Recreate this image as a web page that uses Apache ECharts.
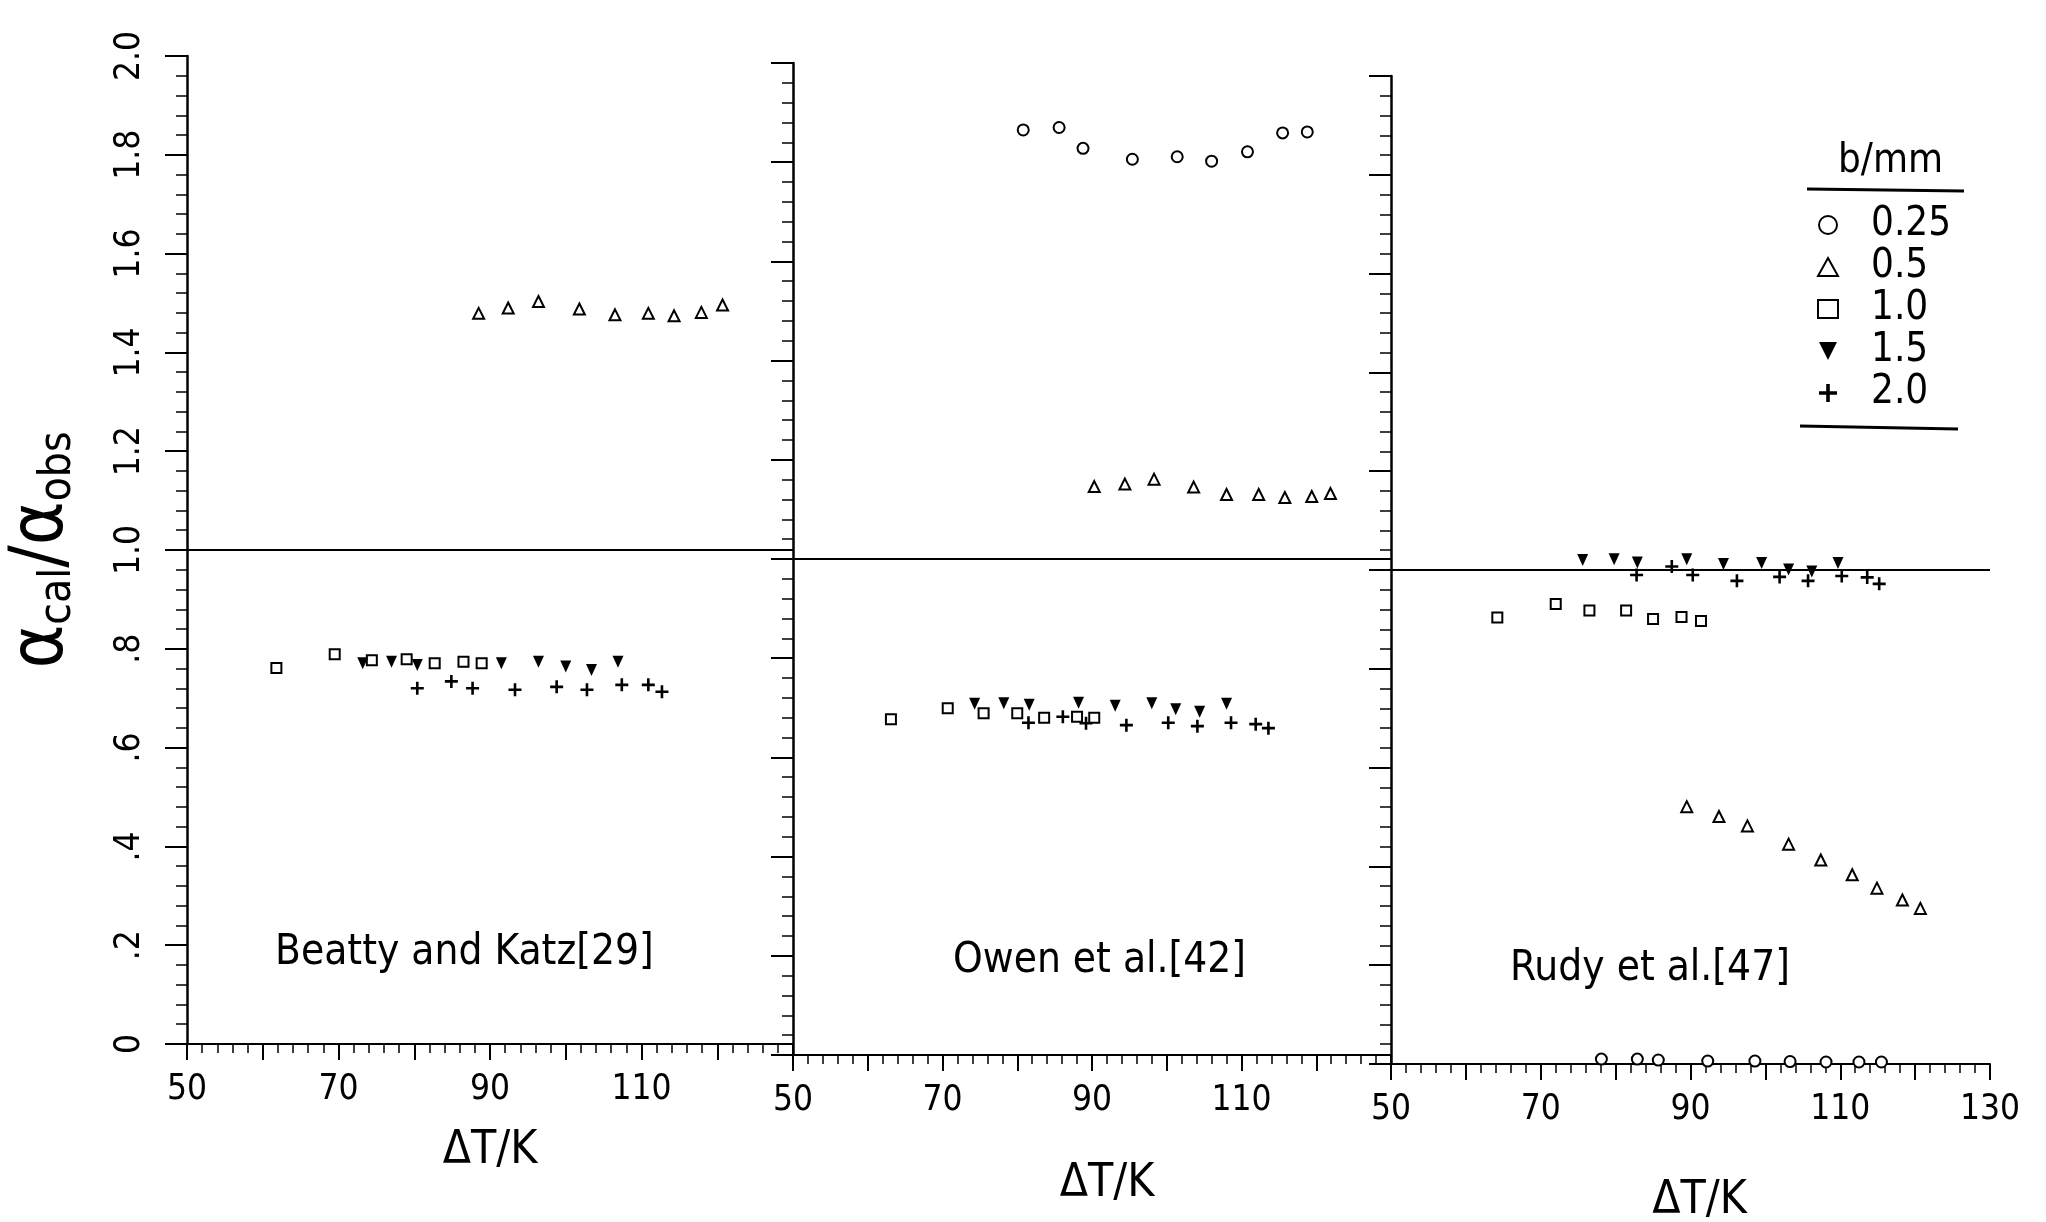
<!DOCTYPE html>
<html><head><meta charset="utf-8">
<script src="https://cdn.jsdelivr.net/npm/echarts@6/dist/echarts.min.js"></script>
<style>html,body{margin:0;padding:0;background:#fff}#c{width:2046px;height:1222px}</style>
</head><body><div id="c"></div><script>
// ---------- data ----------
const xTickLabels = ['50', '70', '90', '110', '130'];
const yTickLabels = ['0', '.2', '.4', '.6', '.8', '1.0', '1.2', '1.4', '1.6', '1.8', '2.0'];
const panelNames = ['Beatty and Katz[29]', 'Owen et al.[42]', 'Rudy et al.[47]'];
const bValues = ['0.25', '0.5', '1.0', '1.5', '2.0'];
const refLevel = 1.0;

// Beatty and Katz [29]
const beatty_05_x = [88.5, 92.4, 96.4, 101.8, 106.5, 110.9, 114.3, 117.9, 120.7];
const beatty_05_y = [1.479, 1.490, 1.503, 1.488, 1.476, 1.479, 1.474, 1.481, 1.496];
const beatty_10_x = [61.8, 69.5, 74.4, 79.0, 82.7, 86.5, 88.9];
const beatty_10_y = [0.761, 0.789, 0.777, 0.779, 0.771, 0.774, 0.771];
const beatty_15_x = [73.2, 77.0, 80.4, 91.5, 96.4, 100.0, 103.4, 106.9];
const beatty_15_y = [0.771, 0.774, 0.767, 0.771, 0.774, 0.764, 0.757, 0.774];
const beatty_20_x = [80.4, 84.9, 87.7, 93.3, 98.8, 102.8, 107.4, 110.9, 112.7];
const beatty_20_y = [0.720, 0.734, 0.720, 0.717, 0.723, 0.717, 0.727, 0.727, 0.713];

// Owen et al. [42]
const owen_025_x = [80.8, 85.6, 88.8, 95.4, 101.4, 106.0, 110.8, 115.5, 118.8];
const owen_025_y = [1.865, 1.870, 1.828, 1.806, 1.811, 1.802, 1.821, 1.859, 1.861];
const owen_05_x = [90.3, 94.4, 98.3, 103.6, 108.0, 112.3, 115.8, 119.4, 121.9];
const owen_05_y = [1.146, 1.151, 1.161, 1.145, 1.130, 1.130, 1.124, 1.126, 1.132];
const owen_10_x = [63.1, 70.7, 75.5, 80.0, 83.6, 88.0, 90.3];
const owen_10_y = [0.677, 0.699, 0.689, 0.689, 0.680, 0.682, 0.680];
const owen_15_x = [74.3, 78.2, 81.6, 88.2, 93.1, 98.0, 101.2, 104.4, 108.0];
const owen_15_y = [0.708, 0.709, 0.706, 0.710, 0.704, 0.709, 0.697, 0.692, 0.708];
const owen_20_x = [81.5, 86.1, 89.2, 94.6, 100.2, 104.1, 108.6, 111.9, 113.6];
const owen_20_y = [0.670, 0.682, 0.669, 0.665, 0.670, 0.663, 0.670, 0.667, 0.659];

// Rudy et al. [47]
const rudy_025_x = [78.1, 82.9, 85.7, 92.3, 98.6, 103.3, 108.1, 112.5, 115.5];
const rudy_025_y = [0.010, 0.010, 0.008, 0.006, 0.006, 0.005, 0.004, 0.004, 0.004];
const rudy_05_x = [89.5, 93.8, 97.6, 103.1, 107.4, 111.6, 114.9, 118.3, 120.7];
const rudy_05_y = [0.521, 0.501, 0.482, 0.445, 0.413, 0.383, 0.356, 0.332, 0.315];
const rudy_10_x = [64.2, 72.0, 76.5, 81.4, 85.0, 88.8, 91.4];
const rudy_10_y = [0.904, 0.931, 0.918, 0.918, 0.901, 0.905, 0.897];
const rudy_15_x = [75.6, 79.8, 82.9, 89.5, 94.4, 99.5, 103.1, 106.2, 109.7];
const rudy_15_y = [1.020, 1.022, 1.015, 1.022, 1.012, 1.014, 1.001, 0.997, 1.014];
const rudy_20_x = [82.8, 87.5, 90.3, 96.2, 101.9, 105.7, 110.2, 113.6, 115.2];
const rudy_20_y = [0.990, 1.007, 0.990, 0.978, 0.986, 0.978, 0.988, 0.985, 0.972];

// ---------- styling ----------
const FONT = "'Liberation Sans Narrow','DejaVu Sans Condensed','Liberation Sans',sans-serif";
const SYM = {
  '0.25': 'emptyCircle',
  '0.5': 'emptyTriangle',
  '1.0': 'emptyRect',
  '1.5': 'path://M0,0L10,0L5,10Z',
  '2.0': 'path://M4,0H6V4H10V6H6V10H4V6H0V4H4Z'
};
const SIZE = {'0.25': 11, '0.5': 11, '1.0': 10, '1.5': [11, 12], '2.0': 13};
const EMPTY = {'0.25': true, '0.5': true, '1.0': true, '1.5': false, '2.0': false};

function zip(xs, ys) { return xs.map((x, i) => [x, ys[i]]); }

function mk(b, idx, xs, ys, withRef) {
  const s = {
    name: b, type: 'scatter', xAxisIndex: idx, yAxisIndex: idx,
    symbol: SYM[b], symbolSize: SIZE[b],
    itemStyle: {color: '#000', borderColor: '#000', borderWidth: EMPTY[b] ? 2.4 : 0, opacity: 1},
    emphasis: {disabled: true},
    data: zip(xs, ys)
  };
  if (withRef) {
    s.markLine = {
      silent: true, symbol: 'none', label: {show: false}, animation: false,
      lineStyle: {color: '#000', width: 2, type: 'solid'},
      data: [{yAxis: refLevel}]
    };
  }
  return s;
}

const grids = [
  {left: 187, top: 56, width: 606, height: 988, containLabel: false, outerBoundsMode: 'none'},
  {left: 793, top: 63, width: 598, height: 992, containLabel: false, outerBoundsMode: 'none'},
  {left: 1391, top: 76, width: 599, height: 988, containLabel: false, outerBoundsMode: 'none'}
];
const nameGaps = [84, 106, 114];
const namePad = [[0, 0, 0, 0], [0, 0, 0, 30], [0, 0, 0, 18]];

const xAxes = grids.map((g, i) => ({
  type: 'value', gridIndex: i, min: 50, max: 130, interval: 10,
  axisLine: {show: true, onZero: false, lineStyle: {color: '#000', width: 2}},
  axisTick: {show: true, length: 16, lineStyle: {color: '#000', width: 2}},
  minorTick: {show: true, splitNumber: 5, length: 9, lineStyle: {color: '#000', width: 1.5}},
  splitLine: {show: false}, minorSplitLine: {show: false},
  axisLabel: {
    margin: 28, fontSize: 35, fontFamily: FONT, color: '#000',
    showMaxLabel: i === 2,
    formatter: v => {
      const t = String(Math.round(v));
      if (!xTickLabels.includes(t)) return '';
      if (i < 2 && t === '130') return '';
      return t;
    }
  },
  name: 'ΔT/K', nameLocation: 'middle', nameGap: nameGaps[i],
  nameTextStyle: {fontSize: 46, fontFamily: FONT, color: '#000', padding: namePad[i]}
}));

const yAxes = grids.map((g, i) => ({
  type: 'value', gridIndex: i, min: 0, max: 2, interval: 0.2,
  axisLine: {show: true, onZero: false, lineStyle: {color: '#000', width: 2.5}},
  axisTick: {show: true, length: 22, lineStyle: {color: '#000', width: 2}},
  minorTick: {show: true, splitNumber: 5, length: 11, lineStyle: {color: '#000', width: 1.5}},
  splitLine: {show: false}, minorSplitLine: {show: false},
  axisLabel: {
    show: i === 0, rotate: 90, margin: 40, fontSize: 35, fontFamily: FONT, color: '#000',
    formatter: v => yTickLabels[Math.round(v / 0.2)]
  },
  name: i === 0 ? '{a|α}{s|cal}{a|/α}{s|obs}' : '',
  nameLocation: 'middle', nameRotate: 90, nameGap: 106,
  nameTextStyle: {
    color: '#000', fontFamily: FONT,
    rich: {
      a: {fontSize: 74, fontFamily: FONT, color: '#000', lineHeight: 76},
      s: {fontSize: 44, fontFamily: FONT, color: '#000', lineHeight: 44, verticalAlign: 'bottom'}
    }
  }
}));

const series = [
  mk('0.5', 0, beatty_05_x, beatty_05_y, true),
  mk('1.0', 0, beatty_10_x, beatty_10_y, false),
  mk('1.5', 0, beatty_15_x, beatty_15_y, false),
  mk('2.0', 0, beatty_20_x, beatty_20_y, false),
  mk('0.25', 1, owen_025_x, owen_025_y, true),
  mk('0.5', 1, owen_05_x, owen_05_y, false),
  mk('1.0', 1, owen_10_x, owen_10_y, false),
  mk('1.5', 1, owen_15_x, owen_15_y, false),
  mk('2.0', 1, owen_20_x, owen_20_y, false),
  mk('0.25', 2, rudy_025_x, rudy_025_y, true),
  mk('0.5', 2, rudy_05_x, rudy_05_y, false),
  mk('1.0', 2, rudy_10_x, rudy_10_y, false),
  mk('1.5', 2, rudy_15_x, rudy_15_y, false),
  mk('2.0', 2, rudy_20_x, rudy_20_y, false)
];

const titlePos = [{left: 275, top: 932}, {left: 953, top: 940}, {left: 1510, top: 948}];
const titles = panelNames.map((t, i) => ({
  text: t, left: titlePos[i].left, top: titlePos[i].top, padding: 0,
  textStyle: {fontSize: 42, fontWeight: 'normal', fontFamily: FONT, color: '#000'}
}));
titles.push({
  text: 'b/mm', left: 1838, top: 142, padding: 0,
  textStyle: {fontSize: 40, fontWeight: 'normal', fontFamily: FONT, color: '#000'}
});

const chart = echarts.init(document.getElementById('c'), null, {renderer: 'canvas'});
chart.setOption({
  backgroundColor: '#fff',
  animation: false,
  title: titles,
  grid: grids,
  xAxis: xAxes,
  yAxis: yAxes,
  legend: {
    orient: 'vertical', left: 1812, top: 200, itemWidth: 20, itemHeight: 18, itemGap: 2,
    selectedMode: false,
    data: bValues.map(b => ({name: b, icon: SYM[b]})),
    itemStyle: {color: '#000', borderColor: '#000'},
    textStyle: {fontSize: 40, fontFamily: FONT, color: '#000', padding: [0, 0, 0, 28]}
  },
  graphic: [
    {type: 'line', shape: {x1: 1807, y1: 189, x2: 1964, y2: 191}, style: {stroke: '#000', lineWidth: 3}},
    {type: 'line', shape: {x1: 1800, y1: 426, x2: 1958, y2: 429}, style: {stroke: '#000', lineWidth: 3}}
  ],
  series: series
});
</script></body></html>
